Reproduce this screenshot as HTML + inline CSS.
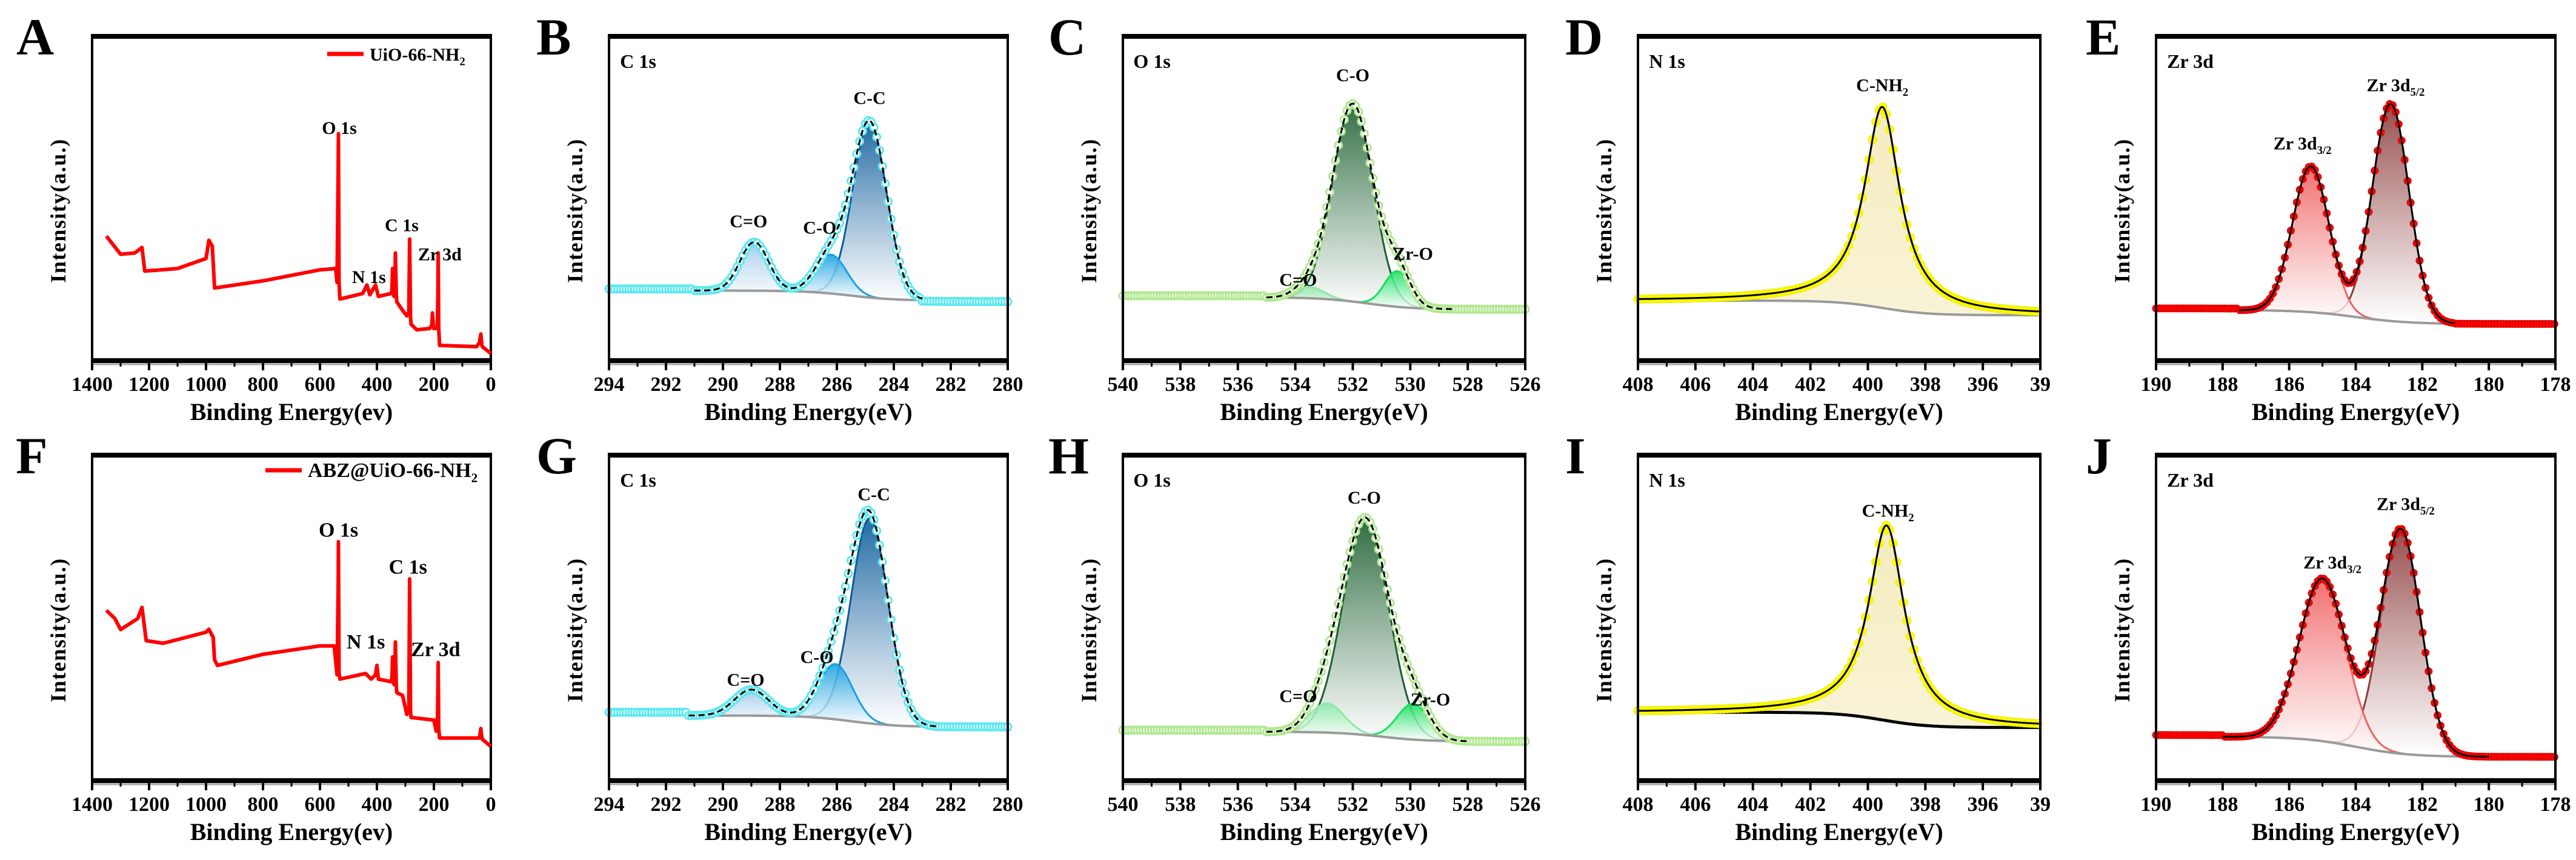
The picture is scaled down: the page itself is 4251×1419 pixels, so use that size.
<!DOCTYPE html>
<html><head><meta charset="utf-8"><style>
html,body{margin:0;padding:0;background:#fff;}
svg{display:block;}
text{font-family:"Liberation Serif",serif;font-weight:bold;fill:#000;}
</style></head>
<body>
<svg id="fig" width="4251" height="1419" viewBox="0 0 4251 1419" xmlns="http://www.w3.org/2000/svg">
<defs id="defs"></defs>
</svg>
<script>
// ---------- Survey data (binding energy eV, intensity % of plot height) ----------
const surveyA_E = [1350,1300,1250,1225,1215,1100,1000,990,978,970,800,600,545,540,536,535,533,530,450,435,425,405,395,350,347,345,342,340,337,335,332,330,310,295,288,285,282,280,260,215,207,205,202,200,188,186,185,183,180,50,40,35,32,30,0];
const surveyA_I = [38.4,32.8,33.2,34.9,27.6,28.4,31.5,37.1,35.3,22.4,24.6,28.0,28.4,24.1,60,70,24,19,20.7,23.3,20.3,23.3,19.8,20.7,22,28.4,21,19.8,22,33.2,20,18.1,15.5,13.8,15,37.5,13,11.2,9.5,9.9,11,14.7,11,9.9,10,20,33.2,10,4.7,4.3,5.6,8.2,5,4.3,2.2];
const surveyF_E = [1350,1320,1300,1240,1225,1210,1150,1000,990,975,970,960,800,600,550,540,536,535,533,530,440,420,405,400,395,350,347,345,342,340,337,335,332,330,310,295,288,285,282,280,200,192,187,185,183,180,40,35,32,30,0];
const surveyF_I = [52.3,49.8,46.4,49.8,53.2,43,42.2,45.6,46.5,44,37.1,35.4,38.8,41.4,41.4,32.5,60,73.4,33,31.2,32.9,31.2,32.5,35.4,31.2,30.4,32,38,31,29.5,33,42.6,29,27,26.2,20.3,22,62,21,19.4,18.6,15.2,20,36.3,16,13.1,13.1,16,13.5,12.7,10.5];

// ---------- Peak fit data ----------
const B_names = ["C-C","C-O","C=O"];
const B_centers = [284.85,286.2,288.9];
const B_amps = [54,12,15];
const B_widths = [0.6,0.55,0.5];
const B_bg = [21.6,18.5];
const C_names = ["C-O","Zr-O","C=O"];
const C_centers = [532.0,530.45,533.5];
const C_amps = [61,11,3.5];
const C_widths = [0.7,0.45,0.5];
const C_bg = [19.5,15.8];
const D_names = ["C-NH2"];
const D_centers = [399.5];
const D_amps = [62];
const D_widths = [0.75];
const D_bg = [18.5,14];
const E_names = ["Zr 3d5/2","Zr 3d3/2"];
const E_centers = [182.95,185.35];
const E_amps = [67,45];
const E_widths = [0.55,0.55];
const E_bg = [15.6,11.3];
const G_names = ["C-C","C-O","C=O"];
const G_centers = [284.85,286.05,289.0];
const G_amps = [63,17,8];
const G_widths = [0.65,0.6,0.6];
const G_bg = [20,16.5];
const H_names = ["C-O","Zr-O","C=O"];
const H_centers = [531.55,529.9,532.9];
const H_amps = [66,11,9];
const H_widths = [0.8,0.55,0.6];
const H_bg = [15,12];
const I_names = ["C-NH2"];
const I_centers = [399.35];
const I_amps = [60];
const I_widths = [0.75];
const I_bg = [21,16.3];
const J_names = ["Zr 3d5/2","Zr 3d3/2"];
const J_centers = [182.65,185.0];
const J_amps = [69,50];
const J_widths = [0.6,0.7];
const J_bg = [13.5,7.3];

const ticksSurvey = [1400,1200,1000,800,600,400,200,0];
const ticksC = [294,292,290,288,286,284,282,280];
const ticksO = [540,538,536,534,532,530,528,526];
const ticksN = [408,406,404,402,400,398,396,394];
const ticksNLabels = ["408","406","404","402","400","398","396","39"];
const ticksZr = [190,188,186,184,182,180,178];

const NS = "http://www.w3.org/2000/svg";
const svg = document.getElementById("fig");
const defs = document.getElementById("defs");
function mk(tag, attrs, parent){
  const e = document.createElementNS(NS, tag);
  for (const k in attrs) e.setAttribute(k, attrs[k]);
  (parent||svg).appendChild(e);
  return e;
}
let gradId = 0;

function makeAxes(p){
  const x = e => p.x0 + (p.eMax - e)/(p.eMax - p.eMin)*(p.x1 - p.x0);
  const y = f => p.y1 - f/100*(p.y1 - p.y0);
  return {x, y};
}

function frame(p, g){
  const r = mk("rect",{x:p.x0,y:p.y0,width:p.x1-p.x0,height:p.y1-p.y0,fill:"none",stroke:"#000","stroke-width":4},g);
  
  
  const t = mk("line",{x1:p.x0-2,y1:p.y0,x2:p.x1+2,y2:p.y0,stroke:"#000","stroke-width":8},g);
  
  
  const sh = mk("line",{x1:p.x0,y1:p.y1+6,x2:p.x1,y2:p.y1+6,stroke:"#aaa","stroke-width":3},g);
  
  
  const b = mk("line",{x1:p.x0-2,y1:p.y1,x2:p.x1+2,y2:p.y1,stroke:"#000","stroke-width":8},g);
  
  
}

function ticks(p, g, A, vals, labels){
  const step = vals[1]-vals[0];
  for (let i=0;i<vals.length;i++){
    const xv = A.x(vals[i]);
    const tk = mk("line",{x1:xv,y1:p.y1,x2:xv,y2:p.y1+16,stroke:"#000","stroke-width":4},g);
    
    
    if (i<vals.length-1){
      const xm = A.x(vals[i]+step/2);
      const mt = mk("line",{x1:xm,y1:p.y1,x2:xm,y2:p.y1+10,stroke:"#000","stroke-width":3},g);
      
      
    }
    const tl = mk("text",{x:xv,y:p.y1+50,"text-anchor":"middle","font-size":34},g);
    tl.textContent = labels ? labels[i] : String(vals[i]);
    
    
  }
  const xt = mk("text",{x:(p.x0+p.x1)/2,y:p.y1+98,"text-anchor":"middle","font-size":40},g);
  xt.textContent = p.xtitle;
  
  
  const cy = (p.y0+p.y1)/2+20;
  const yt = mk("text",{x:p.x0-44,y:cy,"text-anchor":"middle","font-size":36,transform:`rotate(-90 ${p.x0-44} ${cy})`,"letter-spacing":"1.5"},g);
  yt.textContent = "Intensity(a.u.)";
  
  
  const pl = mk("text",{x:p.letterX,y:p.y0+30,"font-size":86},g);
  pl.textContent = p.letter;
  
  
}

function label(g, x, y, txt, sub, size, nm){
  const t = mk("text",{x:x,y:y,"text-anchor":"middle","font-size":size},g);
  
  
  t.appendChild(document.createTextNode(txt));
  if (sub){
    const s = mk("tspan",{"font-size":size*0.62,dy:size*0.25},t);
    s.textContent = sub;
  }
  return t;
}

function survey(p, E, I, legend, legendSub, lbls){
  const g = mk("g",{});
  
  
  const A = makeAxes(p);
  frame(p,g);
  let d = "";
  for (let i=0;i<E.length;i++) d += (i?"L":"M")+A.x(E[i]).toFixed(1)+","+A.y(I[i]).toFixed(1);
  const line = mk("path",{d:d,fill:"none",stroke:"#ff0000","stroke-width":6,"stroke-linejoin":"round"},g);
  
  
  ticks(p,g,A,ticksSurvey,null);
  const lg = mk("line",{x1:p.legX,y1:p.legY,x2:p.legX+60,y2:p.legY,stroke:"#ff0000","stroke-width":7},g);
  
  
  const lt = mk("text",{x:p.legX+70,y:p.legY+11,"font-size":p.legSize},g);
  
  
  lt.appendChild(document.createTextNode(legend));
  const ls = mk("tspan",{"font-size":p.legSize*0.62,dy:p.legSize*0.25},lt);
  ls.textContent = legendSub;
  for (const L of lbls){
    label(g, A.x(L[0]), A.y(L[1])+11, L[2], null, p.lblSize, 'peak-label');
  }
}

function xpsPanel(p, names, centers, amps, widths, bg, opt){
  const g = mk("g",{});
  
  
  const A = makeAxes(p);
  const bgf = e => bg[1] + (bg[0]-bg[1])/(1+Math.exp(-(e-opt.step)/0.8));
  const shape = (i,e) => opt.lor ? amps[i]/(1+Math.pow((e-centers[i])/widths[i],2))
                                 : amps[i]*Math.exp(-Math.pow(e-centers[i],2)/(2*widths[i]*widths[i]));
  const env = e => { let s = bgf(e); for (let i=0;i<centers.length;i++) s += shape(i,e); return s; };
  const wl = opt.win[0], wr = opt.win[1];
  for (let i=0;i<centers.length;i++){
    const id = "gr"+(gradId++);
    const lgd = mk("linearGradient",{id:id,x1:0,y1:0,x2:0,y2:1},defs);
    mk("stop",{offset:"0","stop-color":opt.colors[i]},lgd);
    mk("stop",{offset:"1","stop-color":opt.fade?opt.fade:"#ffffff","stop-opacity":opt.fade?1:0.9},lgd);
    let top = "", bot = [];
    for (let e=wl; e>=wr-1e-9; e-=0.04){
      top += (top?"L":"M")+A.x(e).toFixed(1)+","+A.y(bgf(e)+shape(i,e)).toFixed(1);
      bot.push(A.x(e).toFixed(1)+","+A.y(bgf(e)).toFixed(1));
    }
    const area = mk("path",{d:top+"L"+bot.reverse().join("L")+"Z",fill:`url(#${id})`,"fill-opacity":0.9},g);
    
    
    const cl = mk("path",{d:top,fill:"none",stroke:opt.lineColors?opt.lineColors[i]:opt.colors[i],"stroke-width":3},g);
    
    
  }
  let bd="";
  for (let e=opt.bgLine?p.eMax:wl; e>=(opt.bgLine?p.eMin:wr)-1e-9; e-=0.05) bd += (bd?"L":"M")+A.x(e).toFixed(1)+","+A.y(bgf(e)).toFixed(1);
  const bl = mk("path",{d:bd,fill:"none",stroke:opt.bgColor||"#9a9a9a","stroke-width":opt.bgW||4},g);
  
  
  for (let e=p.eMax; e>=p.eMin-1e-9; e-=opt.mstep){
    let v = (e<=wl && e>=wr) ? env(e) : bgf(e) + (e>wl ? opt.offL||0 : opt.offR||0);
    if (opt.bgLine) v = env(e);
    const c = mk("circle",{cx:A.x(e).toFixed(1),cy:A.y(v).toFixed(1),r:opt.mr,
      fill:opt.mfill,stroke:opt.mstroke,"stroke-width":opt.msw},g);
    
    
  }
  let ed="";
  const el0 = opt.bgLine?p.eMax:wl, er0 = opt.bgLine?p.eMin:wr;
  for (let e=el0; e>=er0-1e-9; e-=0.04) ed += (ed?"L":"M")+A.x(e).toFixed(1)+","+A.y(env(e)).toFixed(1);
  const en = mk("path",{d:ed,fill:"none",stroke:"#000","stroke-width":3,"stroke-dasharray":opt.dash||"none"},g);
  
  
  frame(p,g);
  ticks(p,g,A,opt.ticks,opt.tickLabels||null);
  label(g, p.x0+14+opt.title.length*8.5, p.y0+52, opt.title, null, 32, 'core-level-label');
  for (const L of opt.labels){
    label(g, A.x(L[0]), A.y(L[1])+10, L[2], L[3], 30, 'peak-label');
  }
}

const R1 = {y0:60,y1:595}, R2 = {y0:751,y1:1288};
const cols = [[152,810,27],[1005,1663,885],[1853,2517,1730],[2703,3367,2583],[3558,4217,3442]];
function P(c,row,letter,eMax,eMin,xtitle){
  return {x0:cols[c][0],x1:cols[c][1],letterX:cols[c][2],y0:row.y0,y1:row.y1,letter:letter,eMax:eMax,eMin:eMin,xtitle:xtitle};
}
const XT = "Binding Energy(eV)";

const pA = P(0,R1,"A",1400,0,"Binding Energy(ev)"); pA.legX=540; pA.legY=89; pA.legSize=30; pA.lblSize=30;
survey(pA, surveyA_E, surveyA_I, "UiO-66-NH", "2",
  [[532,72,"O 1s"],[313,42,"C 1s"],[428,26,"N 1s"],[179,33,"Zr 3d"]]);
const pF = P(0,R2,"F",1400,0,"Binding Energy(ev)"); pF.legX=438; pF.legY=776; pF.legSize=34; pF.lblSize=34;
pF.letterX = 26;
survey(pF, surveyF_E, surveyF_I, "ABZ@UiO-66-NH", "2",
  [[535,77,"O 1s"],[291,65.6,"C 1s"],[439,42.6,"N 1s"],[194,40.3,"Zr 3d"]]);

const cOpt = {colors:["#0b5a9a","#18a0e0","#9cc8e8"],mfill:"#fff",mstroke:"#5ee8f0",msw:3,mr:6,mstep:0.1,dash:"10,6",ticks:ticksC};
xpsPanel(P(1,R1,"B",294,280,XT), B_names,B_centers,B_amps,B_widths,B_bg,
  Object.assign({},cOpt,{step:285.5,win:[291,283],offL:0.5,offR:-0.3,title:"C 1s",
  labels:[[284.85,81,"C-C"],[286.6,41,"C-O"],[289.1,43,"C=O"]]}));
xpsPanel(P(1,R2,"G",294,280,XT), G_names,G_centers,G_amps,G_widths,G_bg,
  Object.assign({},cOpt,{step:285.5,win:[291.2,282.5],offL:1,offR:0,title:"C 1s",
  labels:[[284.7,88,"C-C"],[286.7,38,"C-O"],[289.2,31,"C=O"]]}));

const oOpt = {colors:["#1b5e30","#18e060","#8ee8a8"],mfill:"#fff",mstroke:"#b0e890",msw:3,mr:6,mstep:0.1,dash:"10,6",ticks:ticksO};
xpsPanel(P(2,R1,"C",540,526,XT), C_names,C_centers,C_amps,C_widths,C_bg,
  Object.assign({},oOpt,{step:531.5,win:[535,528.5],offL:0.5,offR:0,title:"O 1s",
  labels:[[532,88,"C-O"],[529.9,33,"Zr-O"],[533.9,25,"C=O"]]}));
xpsPanel(P(2,R2,"H",540,526,XT), H_names,H_centers,H_amps,H_widths,H_bg,
  Object.assign({},oOpt,{step:531,win:[535,528],offL:0.5,offR:0,title:"O 1s",
  labels:[[531.6,87,"C-O"],[529.3,25,"Zr-O"],[533.9,26,"C=O"]]}));

const nOpt = {colors:["#f3eab8"],lineColors:["#000"],fade:"#f8f2d2",mfill:"#ffff00",mstroke:"#e8e800",msw:1,mr:7,mstep:0.12,lor:true,bgLine:true,ticks:ticksN,tickLabels:ticksNLabels};
xpsPanel(P(3,R1,"D",408,394,XT), D_names,D_centers,D_amps,D_widths,D_bg,
  Object.assign({},nOpt,{step:399.5,win:[408,394],title:"N 1s",labels:[[399.5,85,"C-NH","2"]]}));
xpsPanel(P(3,R2,"I",408,394,XT), I_names,I_centers,I_amps,I_widths,I_bg,
  Object.assign({},nOpt,{step:399.5,win:[408,394],bgColor:"#000",bgW:5,title:"N 1s",labels:[[399.3,83,"C-NH","2"]]}));

const zOpt = {colors:["#8b3a3a","#f06060"],mfill:"#ff0000",mstroke:"#d00000",msw:1,mr:6,mstep:0.09,ticks:ticksZr};
xpsPanel(P(4,R1,"E",190,178,XT), E_names,E_centers,E_amps,E_widths,E_bg,
  Object.assign({},zOpt,{step:184,win:[187.5,181],offL:0.5,offR:0,title:"Zr 3d",
  labels:[[182.8,85,"Zr 3d","5/2"],[185.6,67,"Zr 3d","3/2"]]}));
xpsPanel(P(4,R2,"J",190,178,XT), J_names,J_centers,J_amps,J_widths,J_bg,
  Object.assign({},zOpt,{step:184,win:[188,180],offL:0.5,offR:0,title:"Zr 3d",
  labels:[[182.5,85,"Zr 3d","5/2"],[184.7,67,"Zr 3d","3/2"]]}));
</script>
</body></html>
